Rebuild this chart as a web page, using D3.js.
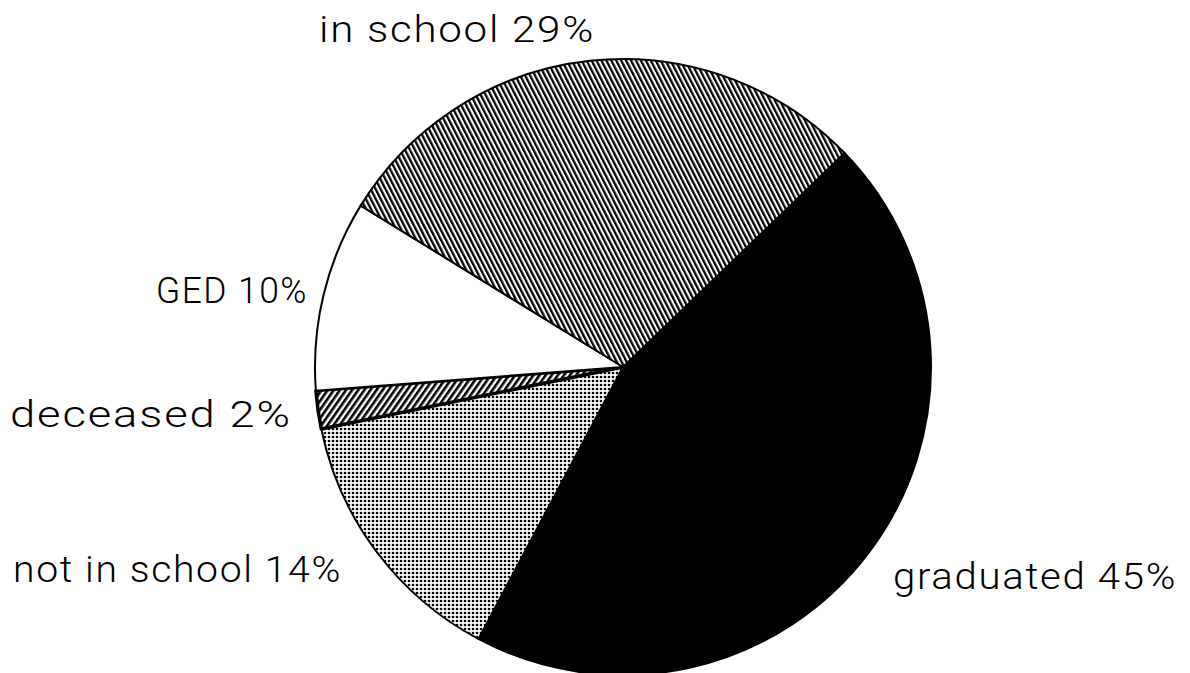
<!DOCTYPE html>
<html>
<head>
<meta charset="utf-8">
<script src="https://cdn.jsdelivr.net/npm/d3@7"></script>
<style>
  body { margin: 0; background: #fff; }
  text { font-family: Roboto, "Liberation Sans", sans-serif; font-weight: 300; fill: #000; }
</style>
</head>
<body>
<svg id="chart" width="1190" height="673"></svg>
<script>
// outcome shares, in pie order (clockwise from the upper right)
var categories = ["graduated", "not in school", "deceased", "GED", "in school"]
var values = [45, 14, 2, 10, 29]
var patterns = ["solid", "dots", "hatchUp", "blank", "hatchDown"]

// label layout: left x, baseline y, text width
var labelPos = [[893, 589, 284], [13, 582, 329], [10, 427, 282], [156, 303, 152], [319, 42, 276]]

var width = 1190, height = 673
var cx = 623, cy = 367, radius = 308
var start = 46 * Math.PI / 180

var svg = d3.select("#chart")
var defs = svg.append("defs")

// fine "\" hatch
var p1 = defs.append("pattern")
    .attr("id", "hatchDown")
    .attr("width", 4.4).attr("height", 10)
    .attr("patternUnits", "userSpaceOnUse")
    .attr("patternTransform", "rotate(-27)")
p1.append("rect").attr("width", 4.4).attr("height", 10).attr("fill", "#fff")
p1.append("rect").attr("width", 2.3).attr("height", 10).attr("fill", "#000")

// coarser "/" hatch
var p2 = defs.append("pattern")
    .attr("id", "hatchUp")
    .attr("width", 5).attr("height", 10)
    .attr("patternUnits", "userSpaceOnUse")
    .attr("patternTransform", "rotate(35)")
p2.append("rect").attr("width", 5).attr("height", 10).attr("fill", "#fff")
p2.append("rect").attr("width", 2.6).attr("height", 10).attr("fill", "#000")

// dot screen
var p3 = defs.append("pattern")
    .attr("id", "dots")
    .attr("width", 4).attr("height", 4)
    .attr("patternUnits", "userSpaceOnUse")
p3.append("rect").attr("width", 4).attr("height", 4).attr("fill", "#fff")
p3.append("circle").attr("cx", 2).attr("cy", 2).attr("r", 1.35).attr("fill", "#000")

var fill = d3.scaleOrdinal()
    .domain(categories)
    .range(patterns.map(function(p) {
        if (p == "solid") return "#000"
        if (p == "blank") return "#fff"
        return "url(#" + p + ")"
    }))

var pie = d3.pie()
    .sort(null)
    .value(function(d) { return d })
    .startAngle(start)
    .endAngle(start + 2 * Math.PI)

var arc = d3.arc()
    .innerRadius(0)
    .outerRadius(radius)

var g = svg.append("g")
    .attr("transform", "translate(" + cx + "," + cy + ")")

g.selectAll("path")
    .data(pie(values))
    .enter().append("path")
    .attr("d", arc)
    .attr("fill", function(d, i) { return fill(categories[i]) })
    .attr("stroke", "#000")
    .attr("stroke-width", function(d, i) { return categories[i] == "deceased" ? 3.5 : 2 })
    .attr("stroke-linejoin", "round")

svg.selectAll("text.label")
    .data(categories)
    .enter().append("text")
    .attr("class", "label")
    .attr("x", function(d, i) { return labelPos[i][0] })
    .attr("y", function(d, i) { return labelPos[i][1] })
    .attr("font-size", 36)
    .attr("letter-spacing", 1.5)
    .attr("textLength", function(d, i) { return labelPos[i][2] })
    .attr("lengthAdjust", "spacingAndGlyphs")
    .text(function(d, i) { return d + " " + values[i] + "%" })
</script>
</body>
</html>
